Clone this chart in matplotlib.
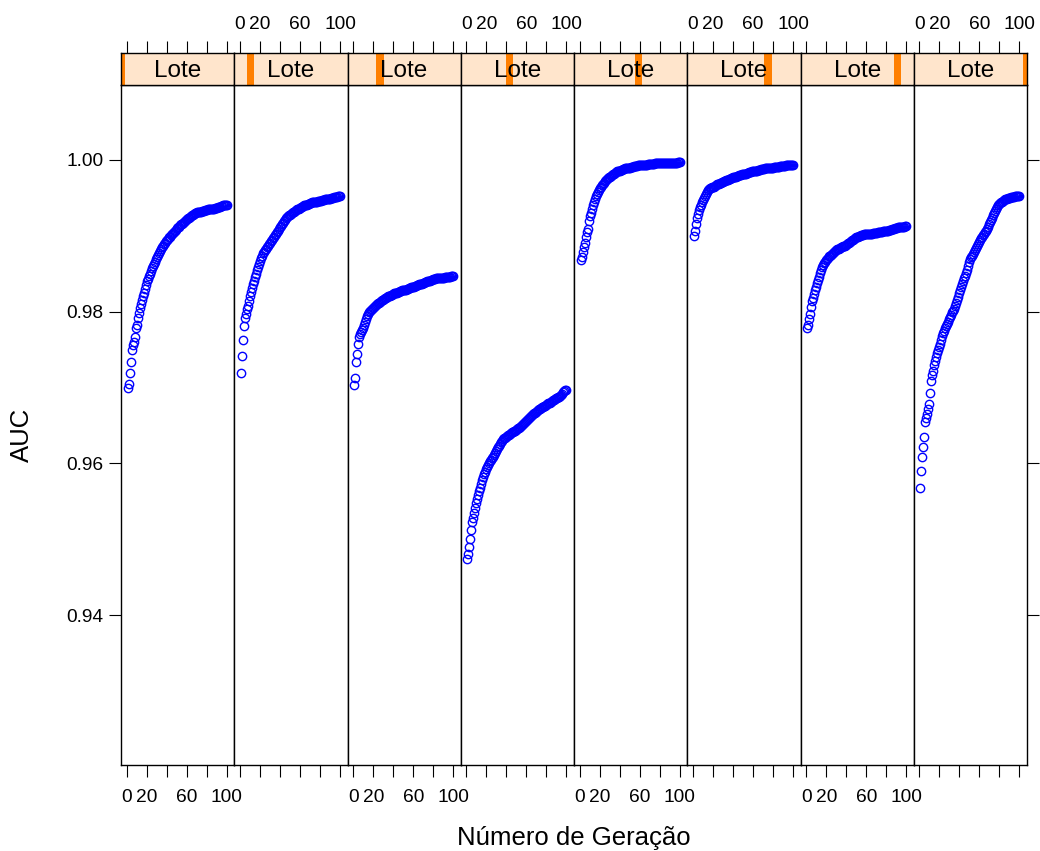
import matplotlib
matplotlib.use("Agg")
import matplotlib.pyplot as plt
from matplotlib.patches import Rectangle

plt.rcParams['font.family'] = ['Liberation Sans', 'DejaVu Sans']

generations = list(range(1, 101))
lote_levels = [1, 2, 3, 4, 5, 6, 7, 8]
x_ticks = [0, 20, 40, 60, 80, 100]
x_ticklabels = ['0', '20', '', '60', '', '100']
y_ticks = [0.94, 0.96, 0.98, 1.00]
y_ticklabels = ['0.94', '0.96', '0.98', '1.00']
strip_label = 'Lote'
x_label = 'Número de Geração'
y_label = 'AUC'

auc_lote1 = [
    0.9700, 0.9704, 0.9719, 0.9733, 0.9749, 0.9756, 0.9760, 0.9767, 0.9779, 0.9783,
    0.9792, 0.9798, 0.9805, 0.9810, 0.9815, 0.9820, 0.9825, 0.9830, 0.9835, 0.9840,
    0.9843, 0.9847, 0.9850, 0.9854, 0.9857, 0.9860, 0.9863, 0.9866, 0.9869, 0.9872,
    0.9875, 0.9878, 0.9880, 0.9883, 0.9885, 0.9887, 0.9889, 0.9891, 0.9893, 0.9895,
    0.9896, 0.9898, 0.9899, 0.9901, 0.9902, 0.9904, 0.9905, 0.9907, 0.9908, 0.9910,
    0.9911, 0.9912, 0.9914, 0.9915, 0.9916, 0.9917, 0.9918, 0.9920, 0.9921, 0.9922,
    0.9923, 0.9924, 0.9925, 0.9926, 0.9927, 0.9928, 0.9929, 0.9930, 0.9930, 0.9931,
    0.9931, 0.9932, 0.9932, 0.9932, 0.9933, 0.9933, 0.9933, 0.9934, 0.9934, 0.9934,
    0.9935, 0.9935, 0.9935, 0.9935, 0.9936, 0.9936, 0.9936, 0.9937, 0.9937, 0.9937,
    0.9938, 0.9938, 0.9938, 0.9939, 0.9939, 0.9940, 0.9940, 0.9940, 0.9941, 0.9941,
]
auc_lote2 = [
    0.9719, 0.9742, 0.9762, 0.9781, 0.9792, 0.9797, 0.9803, 0.9808, 0.9814, 0.9820,
    0.9826, 0.9831, 0.9836, 0.9841, 0.9846, 0.9850, 0.9855, 0.9859, 0.9863, 0.9867,
    0.9871, 0.9874, 0.9877, 0.9879, 0.9881, 0.9883, 0.9885, 0.9887, 0.9889, 0.9891,
    0.9893, 0.9895, 0.9897, 0.9899, 0.9901, 0.9903, 0.9905, 0.9907, 0.9909, 0.9911,
    0.9913, 0.9915, 0.9917, 0.9919, 0.9921, 0.9923, 0.9925, 0.9926, 0.9927, 0.9928,
    0.9929, 0.9930, 0.9931, 0.9932, 0.9933, 0.9934, 0.9935, 0.9935, 0.9936, 0.9937,
    0.9938, 0.9938, 0.9939, 0.9940, 0.9940, 0.9941, 0.9941, 0.9942, 0.9942, 0.9943,
    0.9943, 0.9944, 0.9944, 0.9944, 0.9945, 0.9945, 0.9945, 0.9946, 0.9946, 0.9946,
    0.9946, 0.9947, 0.9947, 0.9947, 0.9948, 0.9948, 0.9948, 0.9949, 0.9949, 0.9949,
    0.9950, 0.9950, 0.9950, 0.9951, 0.9951, 0.9951, 0.9951, 0.9952, 0.9952, 0.9952,
]
auc_lote3 = [
    0.9703, 0.9712, 0.9733, 0.9744, 0.9757, 0.9766, 0.9770, 0.9773, 0.9776, 0.9779,
    0.9783, 0.9787, 0.9790, 0.9794, 0.9797, 0.9799, 0.9801, 0.9802, 0.9804, 0.9805,
    0.9806, 0.9808, 0.9809, 0.9810, 0.9811, 0.9812, 0.9813, 0.9814, 0.9815, 0.9816,
    0.9817, 0.9818, 0.9818, 0.9819, 0.9820, 0.9820, 0.9821, 0.9822, 0.9822, 0.9823,
    0.9824, 0.9824, 0.9825, 0.9825, 0.9826, 0.9826, 0.9827, 0.9827, 0.9828, 0.9828,
    0.9828, 0.9829, 0.9829, 0.9830, 0.9830, 0.9831, 0.9831, 0.9832, 0.9832, 0.9833,
    0.9833, 0.9834, 0.9834, 0.9835, 0.9835, 0.9836, 0.9836, 0.9837, 0.9837, 0.9838,
    0.9838, 0.9839, 0.9839, 0.9840, 0.9840, 0.9841, 0.9841, 0.9842, 0.9842, 0.9843,
    0.9843, 0.9843, 0.9844, 0.9844, 0.9844, 0.9844, 0.9845, 0.9845, 0.9845, 0.9845,
    0.9845, 0.9846, 0.9846, 0.9846, 0.9846, 0.9846, 0.9846, 0.9847, 0.9847, 0.9847,
]
auc_lote4 = [
    0.9474, 0.9480, 0.9490, 0.9500, 0.9512, 0.9522, 0.9528, 0.9535, 0.9541, 0.9548,
    0.9553, 0.9558, 0.9563, 0.9568, 0.9573, 0.9578, 0.9582, 0.9586, 0.9589, 0.9592,
    0.9595, 0.9598, 0.9601, 0.9603, 0.9605, 0.9607, 0.9609, 0.9611, 0.9613, 0.9616,
    0.9619, 0.9621, 0.9623, 0.9626, 0.9628, 0.9630, 0.9632, 0.9633, 0.9634, 0.9635,
    0.9636, 0.9637, 0.9638, 0.9639, 0.9640, 0.9641, 0.9641, 0.9642, 0.9643, 0.9644,
    0.9645, 0.9646, 0.9647, 0.9648, 0.9649, 0.9650, 0.9652, 0.9653, 0.9654, 0.9656,
    0.9657, 0.9658, 0.9660, 0.9661, 0.9662, 0.9664, 0.9665, 0.9666, 0.9667, 0.9668,
    0.9669, 0.9670, 0.9671, 0.9672, 0.9673, 0.9674, 0.9674, 0.9675, 0.9676, 0.9677,
    0.9678, 0.9679, 0.9679, 0.9680, 0.9681, 0.9682, 0.9683, 0.9684, 0.9685, 0.9686,
    0.9686, 0.9687, 0.9688, 0.9689, 0.9690, 0.9692, 0.9694, 0.9695, 0.9697, 0.9697,
]
auc_lote5 = [
    0.9868, 0.9872, 0.9879, 0.9885, 0.9890, 0.9898, 0.9905, 0.9909, 0.9920, 0.9926,
    0.9930, 0.9935, 0.9940, 0.9944, 0.9948, 0.9952, 0.9955, 0.9958, 0.9961, 0.9963,
    0.9965, 0.9967, 0.9969, 0.9970, 0.9972, 0.9973, 0.9975, 0.9976, 0.9977, 0.9978,
    0.9979, 0.9980, 0.9981, 0.9982, 0.9983, 0.9984, 0.9985, 0.9985, 0.9986, 0.9986,
    0.9987, 0.9987, 0.9988, 0.9988, 0.9989, 0.9989, 0.9989, 0.9990, 0.9990, 0.9990,
    0.9991, 0.9991, 0.9991, 0.9992, 0.9992, 0.9992, 0.9992, 0.9993, 0.9993, 0.9993,
    0.9993, 0.9993, 0.9994, 0.9994, 0.9994, 0.9994, 0.9994, 0.9995, 0.9995, 0.9995,
    0.9995, 0.9995, 0.9995, 0.9995, 0.9996, 0.9996, 0.9996, 0.9996, 0.9996, 0.9996,
    0.9996, 0.9996, 0.9996, 0.9996, 0.9996, 0.9996, 0.9996, 0.9996, 0.9996, 0.9996,
    0.9996, 0.9996, 0.9996, 0.9996, 0.9996, 0.9996, 0.9996, 0.9997, 0.9997, 0.9997,
]
auc_lote6 = [
    0.9900, 0.9907, 0.9916, 0.9924, 0.9929, 0.9934, 0.9938, 0.9941, 0.9944, 0.9947,
    0.9950, 0.9952, 0.9955, 0.9958, 0.9961, 0.9962, 0.9963, 0.9963, 0.9964, 0.9965,
    0.9965, 0.9966, 0.9967, 0.9968, 0.9968, 0.9969, 0.9970, 0.9970, 0.9971, 0.9971,
    0.9972, 0.9972, 0.9973, 0.9974, 0.9974, 0.9975, 0.9975, 0.9976, 0.9976, 0.9977,
    0.9977, 0.9978, 0.9978, 0.9979, 0.9979, 0.9980, 0.9980, 0.9980, 0.9981, 0.9981,
    0.9982, 0.9982, 0.9982, 0.9983, 0.9983, 0.9984, 0.9984, 0.9984, 0.9985, 0.9985,
    0.9985, 0.9986, 0.9986, 0.9986, 0.9987, 0.9987, 0.9987, 0.9988, 0.9988, 0.9988,
    0.9988, 0.9989, 0.9989, 0.9989, 0.9989, 0.9990, 0.9990, 0.9990, 0.9990, 0.9990,
    0.9991, 0.9991, 0.9991, 0.9991, 0.9991, 0.9991, 0.9992, 0.9992, 0.9992, 0.9992,
    0.9992, 0.9992, 0.9993, 0.9993, 0.9993, 0.9993, 0.9993, 0.9993, 0.9993, 0.9993,
]
auc_lote7 = [
    0.9778, 0.9782, 0.9790, 0.9797, 0.9806, 0.9814, 0.9818, 0.9823, 0.9828, 0.9833,
    0.9838, 0.9842, 0.9846, 0.9851, 0.9855, 0.9859, 0.9862, 0.9864, 0.9866, 0.9868,
    0.9870, 0.9871, 0.9873, 0.9874, 0.9875, 0.9876, 0.9877, 0.9879, 0.9880, 0.9881,
    0.9882, 0.9883, 0.9883, 0.9884, 0.9885, 0.9885, 0.9886, 0.9886, 0.9887, 0.9888,
    0.9889, 0.9890, 0.9891, 0.9892, 0.9893, 0.9894, 0.9895, 0.9896, 0.9897, 0.9898,
    0.9899, 0.9899, 0.9900, 0.9900, 0.9901, 0.9901, 0.9901, 0.9902, 0.9902, 0.9902,
    0.9902, 0.9903, 0.9903, 0.9903, 0.9903, 0.9903, 0.9904, 0.9904, 0.9904, 0.9904,
    0.9904, 0.9905, 0.9905, 0.9905, 0.9905, 0.9905, 0.9906, 0.9906, 0.9906, 0.9907,
    0.9907, 0.9907, 0.9908, 0.9908, 0.9908, 0.9909, 0.9909, 0.9909, 0.9910, 0.9910,
    0.9910, 0.9911, 0.9911, 0.9911, 0.9912, 0.9912, 0.9912, 0.9912, 0.9913, 0.9913,
]
auc_lote8 = [
    0.9568, 0.9590, 0.9608, 0.9622, 0.9635, 0.9655, 0.9660, 0.9665, 0.9672, 0.9678,
    0.9693, 0.9709, 0.9716, 0.9722, 0.9730, 0.9735, 0.9740, 0.9746, 0.9750, 0.9754,
    0.9758, 0.9763, 0.9768, 0.9772, 0.9775, 0.9778, 0.9781, 0.9784, 0.9787, 0.9790,
    0.9793, 0.9796, 0.9799, 0.9801, 0.9803, 0.9807, 0.9811, 0.9815, 0.9819, 0.9824,
    0.9828, 0.9832, 0.9836, 0.9840, 0.9844, 0.9847, 0.9851, 0.9855, 0.9860, 0.9865,
    0.9869, 0.9872, 0.9874, 0.9876, 0.9879, 0.9881, 0.9884, 0.9886, 0.9889, 0.9892,
    0.9895, 0.9897, 0.9899, 0.9901, 0.9903, 0.9905, 0.9907, 0.9909, 0.9912, 0.9915,
    0.9918, 0.9921, 0.9924, 0.9927, 0.9930, 0.9933, 0.9936, 0.9938, 0.9940, 0.9942,
    0.9943, 0.9944, 0.9945, 0.9946, 0.9947, 0.9948, 0.9949, 0.9949, 0.9950, 0.9950,
    0.9950, 0.9951, 0.9951, 0.9951, 0.9951, 0.9952, 0.9952, 0.9952, 0.9952, 0.9952,
]

series = [auc_lote1, auc_lote2, auc_lote3, auc_lote4,
          auc_lote5, auc_lote6, auc_lote7, auc_lote8]

# ---- layout (pixels) ----
W, H = 1040, 851
DPI = 100
fig = plt.figure(figsize=(W / DPI, H / DPI), dpi=DPI)
fig.patch.set_facecolor('white')

left0, right0 = 121.0, 1027.0
panel_top, panel_bot = 85.0, 765.0
strip_top = 53.0
n = len(series)
pw = (right0 - left0) / n

XLIM = (-5.7, 107.5)
YLIM = (0.92022, 1.00989)
tick_len = 8.6
tick_fs = 13.8
lw_box = 1.0

def fx(px):
    return px / W

def fy(py):
    return 1 - py / H

for k, vals in enumerate(series):
    L = left0 + k * pw
    ax = fig.add_axes([fx(L), fy(panel_bot), pw / W, (panel_bot - panel_top) / H])
    ax.plot(generations, vals, linestyle='none', marker='o', markersize=6.0,
            markerfacecolor='none', markeredgecolor='#0000FF', markeredgewidth=1.0)
    ax.set_xlim(*XLIM)
    ax.set_ylim(*YLIM)
    for sp in ax.spines.values():
        sp.set_linewidth(lw_box)
        sp.set_color('black')
    ax.set_xticks(x_ticks)
    if k % 2 == 0:
        ax.set_xticklabels(x_ticklabels)
    else:
        ax.set_xticklabels([''] * len(x_ticks))
    ax.tick_params(axis='x', which='both', direction='out', length=tick_len,
                   width=0.8, labelsize=tick_fs, pad=9.0, top=False, bottom=True)
    ax.set_yticks(y_ticks)
    if k == 0:
        ax.set_yticklabels(y_ticklabels)
        ax.tick_params(axis='y', direction='out', length=tick_len, width=0.8,
                       labelsize=tick_fs, pad=4.0, left=True, right=False)
    elif k == n - 1:
        ax.tick_params(axis='y', direction='out', length=tick_len, width=0.8,
                       left=False, right=True, labelleft=False, labelright=False)
    else:
        ax.tick_params(axis='y', left=False, right=False, labelleft=False)

    # strip
    sax = fig.add_axes([fx(L), fy(panel_top), pw / W, (panel_top - strip_top) / H])
    sax.set_facecolor('#FFE5CC')
    sax.set_xlim(*XLIM)
    sax.set_ylim(0, 1)
    for sp in sax.spines.values():
        sp.set_linewidth(lw_box)
        sp.set_color('black')
    lv = lote_levels[k]
    frac = (lv - lote_levels[0]) / (lote_levels[-1] - lote_levels[0])
    bw = 7.3 / pw
    rect = Rectangle((frac - bw / 2, 0), bw, 1, transform=sax.transAxes,
                     facecolor='#FF7F00', edgecolor='none', zorder=1, clip_on=True)
    sax.add_patch(rect)
    sax.text(0.5, 0.43, strip_label, transform=sax.transAxes, ha='center',
             va='center', fontsize=17.5, color='black', zorder=3)
    sax.set_yticks([])
    sax.set_xticks(x_ticks)
    sax.xaxis.set_ticks_position('top')
    if k % 2 == 1:
        sax.set_xticklabels(x_ticklabels)
    else:
        sax.set_xticklabels([''] * len(x_ticks))
    sax.tick_params(axis='x', direction='out', length=tick_len, width=0.8,
                    labelsize=tick_fs, pad=6.0, top=True, bottom=False,
                    labeltop=True, labelbottom=False)

fig.text(fx((left0 + right0) / 2), fy(838), x_label, ha='center', va='center',
         fontsize=18.5)
fig.text(fx(22), fy(435), y_label, ha='center', va='center', rotation=90,
         fontsize=18.5)

fig.savefig('out.png', dpi=DPI, facecolor='white')
